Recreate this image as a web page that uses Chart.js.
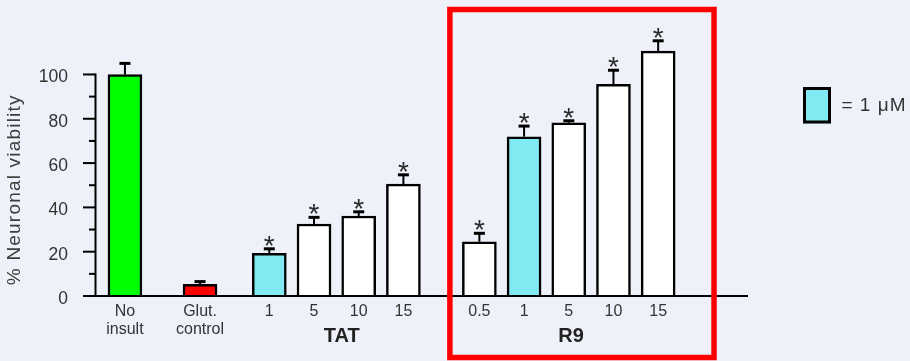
<!DOCTYPE html>
<html>
<head>
<meta charset="utf-8">
<title>Neuronal viability: TAT vs R9</title>
<script src="https://cdn.jsdelivr.net/npm/chart.js@4/dist/chart.umd.min.js"></script>
<style>
  html, body { margin: 0; padding: 0; background: #eef1f9; }
  canvas { display: block; }
</style>
</head>
<body>
<canvas id="chart" width="910" height="361"></canvas>
<script>
// ---- Data (% neuronal viability, mean and SEM) ----
const controlLabels = [['No', 'insult'], ['Glut.', 'control']];
const controlValues = [100, 5.3];
const controlErrors = [5.0, 1.2];

const tatDoses = ['1', '5', '10', '15'];
const tatValues = [19.3, 32.5, 36.1, 50.5];
const tatErrors = [2.0, 3.0, 1.9, 4.2];

const r9Doses = ['0.5', '1', '5', '10', '15'];
const r9Values = [24.5, 71.9, 78.2, 95.5, 110.5];
const r9Errors = [3.8, 4.8, 0.9, 6.4, 4.7];

const yTickValues = [0, 20, 40, 60, 80, 100];
const groupNames = ['TAT', 'R9'];
const legendText = '= 1 μM';

// ---- Layout (x axis in bar-slot units) ----
const controlSlots = [0.67, 2.35];
const tatStart = 3.9;
const r9Start = 8.6;
const xMax = 14.61;
const groupLabelSlots = [5.52, 10.65];
const highlightSlots = [7.94, 13.85];

const FONT = "'Liberation Sans', Arial, Helvetica, sans-serif";
const TEXT = '#333333';
const COLORS = { ctrl: '#00ff00', glut: '#ff0000', oneMicro: '#80e9f2', plain: '#ffffff' };

// Build bar records from the arrays above
const bars = [];
controlValues.forEach((v, i) => bars.push({
  x: controlSlots[i], y: v, err: controlErrors[i], star: false,
  label: controlLabels[i], color: i === 0 ? COLORS.ctrl : COLORS.glut
}));
tatValues.forEach((v, i) => bars.push({
  x: tatStart + i, y: v, err: tatErrors[i], star: true,
  label: tatDoses[i], color: tatDoses[i] === '1' ? COLORS.oneMicro : COLORS.plain
}));
r9Values.forEach((v, i) => bars.push({
  x: r9Start + i, y: v, err: r9Errors[i], star: true,
  label: r9Doses[i], color: r9Doses[i] === '1' ? COLORS.oneMicro : COLORS.plain
}));

const decorations = {
  id: 'decorations',
  beforeDraw(chart) {
    const ctx = chart.ctx;
    ctx.save();
    ctx.fillStyle = '#eef1f9';
    ctx.fillRect(0, 0, chart.width, chart.height);
    ctx.restore();
  },
  afterDatasetsDraw(chart) {
    const ctx = chart.ctx;
    const xs = chart.scales.x, ys = chart.scales.y;
    const y0 = ys.getPixelForValue(0);
    const y100 = ys.getPixelForValue(100);
    const left = chart.chartArea.left;
    ctx.save();

    // error bars (upper half only) and significance marks
    ctx.strokeStyle = '#000';
    bars.forEach(b => {
      const px = xs.getPixelForValue(b.x);
      const top = ys.getPixelForValue(b.y);
      const capY = ys.getPixelForValue(b.y + b.err);
      ctx.lineWidth = 2;
      ctx.beginPath();
      ctx.moveTo(px, top);
      ctx.lineTo(px, capY);
      ctx.stroke();
      ctx.lineWidth = 3;
      ctx.beginPath();
      ctx.moveTo(px - 5.5, capY);
      ctx.lineTo(px + 5.5, capY);
      ctx.stroke();
      if (b.star) {
        ctx.font = '28px ' + FONT;
        ctx.fillStyle = '#2a2a2a';
        ctx.textAlign = 'center';
        ctx.textBaseline = 'alphabetic';
        const m = ctx.measureText('*');
        const base = capY - 3 - m.actualBoundingBoxDescent;
        ctx.fillText('*', px, base);
      }
    });

    // axes
    ctx.strokeStyle = '#000';
    ctx.lineWidth = 2;
    ctx.beginPath();
    ctx.moveTo(left - 9, y0);
    ctx.lineTo(chart.chartArea.right, y0);
    ctx.stroke();
    ctx.beginPath();
    ctx.moveTo(left + 0.5, y0);
    ctx.lineTo(left + 0.5, y100 - 1);
    ctx.stroke();
    for (let v = 0; v <= 100; v += 10) {
      const py = ys.getPixelForValue(v);
      const len = v % 20 === 0 ? 12 : 6;
      ctx.beginPath();
      ctx.moveTo(left - len, py);
      ctx.lineTo(left + 0.5, py);
      ctx.stroke();
    }

    // group names under the dose labels
    ctx.fillStyle = '#222';
    ctx.font = 'bold 20px ' + FONT;
    ctx.textAlign = 'center';
    ctx.textBaseline = 'middle';
    groupNames.forEach((g, i) => {
      ctx.fillText(g, xs.getPixelForValue(groupLabelSlots[i]), 336);
    });

    // y axis title
    ctx.save();
    ctx.fillStyle = '#3c3c3c';
    ctx.font = '19px ' + FONT;
    if ('letterSpacing' in ctx) ctx.letterSpacing = '1.2px';
    ctx.translate(19.5, (y0 + y100) / 2 + 4.5);
    ctx.rotate(-Math.PI / 2);
    ctx.textAlign = 'center';
    ctx.textBaseline = 'alphabetic';
    ctx.fillText('% Neuronal viability', 0, 0);
    ctx.restore();

    // red highlight frame around the R9 series
    const hx0 = xs.getPixelForValue(highlightSlots[0]);
    const hx1 = xs.getPixelForValue(highlightSlots[1]);
    ctx.strokeStyle = '#ff0000';
    ctx.lineWidth = 5.5;
    ctx.strokeRect(hx0, 9.5, hx1 - hx0, chart.height - 3.5 - 9.5);

    // key: cyan box = 1 µM
    ctx.fillStyle = COLORS.oneMicro;
    ctx.fillRect(803, 87, 28, 36.5);
    ctx.strokeStyle = '#000';
    ctx.lineWidth = 3;
    ctx.strokeRect(804.5, 88.5, 25, 33.5);
    ctx.fillStyle = TEXT;
    ctx.font = '19px ' + FONT;
    if ('letterSpacing' in ctx) ctx.letterSpacing = '1px';
    ctx.textAlign = 'left';
    ctx.textBaseline = 'middle';
    ctx.fillText(legendText, 841.5, 105.5);
    ctx.restore();
  }
};

new Chart(document.getElementById('chart'), {
  type: 'bar',
  data: {
    datasets: [{
      data: bars.map(b => ({ x: b.x, y: b.y })),
      backgroundColor: bars.map(b => b.color),
      borderColor: '#000',
      borderWidth: 2.5,
      barThickness: 34
    }]
  },
  options: {
    responsive: false,
    animation: false,
    layout: { padding: { top: 8, right: 162, bottom: 0, left: 0 } },
    plugins: { legend: { display: false }, tooltip: { enabled: false } },
    scales: {
      x: {
        type: 'linear',
        offset: false,
        min: 0,
        max: xMax,
        grid: { display: false, drawTicks: false, offset: false },
        border: { display: false },
        afterFit(scale) {
          scale.height = 65;
          scale.paddingLeft = 0;
          scale.paddingRight = 0;
        },
        afterBuildTicks(scale) { scale.ticks = bars.map(b => ({ value: b.x })); },
        ticks: {
          autoSkip: false,
          maxRotation: 0,
          padding: 6,
          color: TEXT,
          font: { family: FONT, size: 16, lineHeight: 1.17 },
          callback: (value, index) => bars[index].label
        }
      },
      y: {
        min: 0,
        max: 130,
        grid: { display: false, drawTicks: false },
        border: { display: false },
        afterFit(scale) {
          scale.width = 95;
          scale.paddingTop = 0;
          scale.paddingBottom = 0;
        },
        afterBuildTicks(scale) { scale.ticks = yTickValues.map(v => ({ value: v })); },
        ticks: {
          padding: 27,
          labelOffset: 3,
          color: TEXT,
          font: { family: FONT, size: 17.5 }
        }
      }
    }
  },
  plugins: [decorations]
});
</script>
</body>
</html>
